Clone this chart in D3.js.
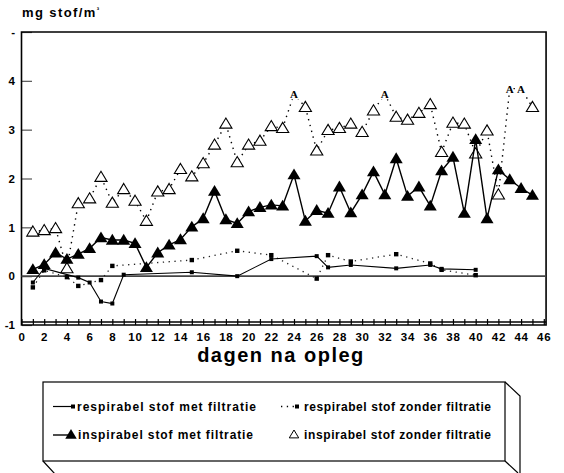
<!DOCTYPE html>
<html>
<head>
<meta charset="utf-8">
<script src="https://cdn.jsdelivr.net/npm/d3@7"></script>
<style>
  body { margin: 0; background: #fff; }
  svg { display: block; font-family: "Liberation Sans", Arial, sans-serif; font-weight: bold; }
</style>
</head>
<body>
<div id="chart"></div>
<script>
// days on which inspirabel stof was measured
var inspDays = [1, 2, 3, 4, 5, 6, 7, 8, 9, 10, 11, 12, 13, 14, 15, 16, 17, 18, 19, 20, 21, 22, 23,
  24, 25, 26, 27, 28, 29, 30, 31, 32, 33, 34, 35, 36, 37, 38, 39, 40, 41, 42, 43, 44, 45];
var inspMet = [0.14, 0.24, 0.48, 0.35, 0.45, 0.57, 0.79, 0.74, 0.74, 0.67, 0.18, 0.48, 0.64, 0.75,
  1.01, 1.18, 1.74, 1.16, 1.08, 1.32, 1.41, 1.46, 1.44, 2.08, 1.13, 1.35, 1.29, 1.83, 1.30, 1.67,
  2.14, 1.67, 2.41, 1.64, 1.83, 1.44, 2.16, 2.44, 1.29, 2.80, 1.18, 2.18, 1.98, 1.80, 1.66];
var inspZonder = [0.91, 0.94, 0.98, 0.16, 1.49, 1.59, 2.03, 1.50, 1.78, 1.54, 1.13, 1.73, 1.78, 2.19,
  2.04, 2.31, 2.69, 3.12, 2.33, 2.69, 2.77, 3.07, 3.03, 3.73, 3.46, 2.57, 2.99, 3.03, 3.12, 2.95,
  3.39, 3.73, 3.26, 3.20, 3.34, 3.52, 2.54, 3.14, 3.12, 2.51, 2.98, 1.67, 3.84, 3.84, 3.46];
// open-triangle points that are printed as the letter "A" in the original
var aDays = [24, 32, 43, 44];

var respMetDays = [1, 2, 5, 6, 7, 8, 9, 15, 19, 22, 26, 27, 29, 33, 36, 37, 40];
var respMet = [-0.13, 0.16, -0.03, -0.13, -0.52, -0.56, 0.03, 0.08, 0.0, 0.35, 0.41, 0.18, 0.23,
  0.16, 0.23, 0.15, 0.13];
var respZonderDays = [1, 2, 4, 5, 7, 8, 15, 19, 22, 26, 27, 29, 33, 36, 37, 40];
var respZonder = [-0.23, 0.12, -0.02, -0.2, -0.08, 0.21, 0.33, 0.52, 0.43, -0.05, 0.43, 0.3, 0.45,
  0.26, 0.13, 0.02];

var xTicks = [0, 1, 2, 3, 4, 5, 6, 7, 8, 9, 10, 11, 12, 13, 14, 15, 16, 17, 18, 19, 20, 21, 22, 23,
  24, 25, 26, 27, 28, 29, 30, 31, 32, 33, 34, 35, 36, 37, 38, 39, 40, 41, 42, 43, 44, 45, 46];
var yTicks = [-1, 0, 1, 2, 3, 4, 5];

var legendItems = [
  "respirabel stof met filtratie",
  "respirabel stof zonder filtratie",
  "inspirabel stof met filtratie",
  "inspirabel stof zonder filtratie"
];

var width = 564, height = 473;

var svg = d3.select("#chart").append("svg")
  .attr("width", width)
  .attr("height", height);

var x = d3.scaleLinear().domain([0, 46]).range([21.5, 543.8]);
var y = d3.scaleLinear().domain([-1, 5]).range([325, 32]);

// triangle marker path, centred on the point
function tri(s) {
  return "M0," + (-s) + "L" + (s * 1.05) + "," + (s * 0.75) + "L" + (-s * 1.05) + "," + (s * 0.75) + "Z";
}

// y axis title
svg.append("text")
  .attr("x", 22)
  .attr("y", 17)
  .style("font-size", "13px")
  .style("letter-spacing", "1.4px")
  .text("mg stof/m")
  .append("tspan")
  .attr("dy", -5)
  .style("font-size", "7px")
  .text("³");

// y axis with inner ticks
var yAxis = d3.axisLeft(y)
  .tickValues(yTicks)
  .tickSize(-10)
  .tickPadding(7)
  .tickFormat(function (d) { return d == 5 ? "-" : d; });
var gy = svg.append("g").attr("transform", "translate(22,0)").call(yAxis);
gy.select(".domain").remove();
gy.selectAll(".tick line").attr("stroke", "#555").attr("stroke-width", 1.2);
gy.selectAll(".tick text")
  .style("font-size", "11.5px")
  .style("font-family", "Liberation Sans, Arial, sans-serif")
  .style("font-weight", "bold")
  .attr("fill", "#000");

// x axis ruler along the bottom
var xAxis = d3.axisBottom(x)
  .tickValues(xTicks)
  .tickSize(-6)
  .tickPadding(8)
  .tickFormat(function (d) { return d % 2 ? "" : d; });
var gx = svg.append("g").attr("transform", "translate(0," + y(-1) + ")").call(xAxis);
gx.select(".domain").remove();
gx.selectAll(".tick line").attr("stroke", "#000").attr("stroke-width", 1.2);
gx.selectAll(".tick text")
  .style("font-size", "11.5px")
  .style("font-family", "Liberation Sans, Arial, sans-serif")
  .style("font-weight", "bold")
  .style("letter-spacing", "0.8px")
  .attr("fill", "#000");

// frame
svg.append("path")
  .attr("d", "M" + x(0) + "," + y(-1) + "V" + y(5) + "H" + x(46.2) + "V" + y(-1) + "Z")
  .attr("fill", "none")
  .attr("stroke", "#000")
  .attr("stroke-width", 1.6);
svg.append("line")
  .attr("x1", x(0)).attr("x2", x(46.2))
  .attr("y1", y(-1) - 3).attr("y2", y(-1) - 3)
  .attr("stroke", "#000").attr("stroke-width", 1.6);

// zero line
svg.append("line")
  .attr("x1", x(0)).attr("x2", x(46.2))
  .attr("y1", y(0)).attr("y2", y(0))
  .attr("stroke", "#444").attr("stroke-width", 1.6);

// x axis title
svg.append("text")
  .attr("x", 281)
  .attr("y", 362)
  .attr("text-anchor", "middle")
  .style("font-size", "20px")
  .style("letter-spacing", "1.5px")
  .text("dagen na opleg");

var line = d3.line()
  .x(function (d) { return x(d[0]); })
  .y(function (d) { return y(d[1]); });

var inspMetPts = inspDays.map(function (d, i) { return [d, inspMet[i]]; });
var inspZonderPts = inspDays.map(function (d, i) { return [d, inspZonder[i]]; });
var respMetPts = respMetDays.map(function (d, i) { return [d, respMet[i]]; });
var respZonderPts = respZonderDays.map(function (d, i) { return [d, respZonder[i]]; });

// respirabel zonder filtratie: dotted with squares
svg.append("path")
  .attr("d", line(respZonderPts))
  .attr("fill", "none")
  .attr("stroke", "#222")
  .attr("stroke-width", 1.3)
  .attr("stroke-dasharray", "1.3,4.5");
svg.selectAll(".rz").data(respZonderPts).enter().append("rect")
  .attr("x", function (d) { return x(d[0]) - 2.2; })
  .attr("y", function (d) { return y(d[1]) - 2.2; })
  .attr("width", 4.4).attr("height", 4.4)
  .attr("fill", "#000");

// respirabel met filtratie: solid with squares
svg.append("path")
  .attr("d", line(respMetPts))
  .attr("fill", "none")
  .attr("stroke", "#000")
  .attr("stroke-width", 1.1);
svg.selectAll(".rm").data(respMetPts).enter().append("rect")
  .attr("x", function (d) { return x(d[0]) - 2; })
  .attr("y", function (d) { return y(d[1]) - 2; })
  .attr("width", 4).attr("height", 4)
  .attr("fill", "#000");

// inspirabel zonder filtratie: dotted with open triangles
svg.append("path")
  .attr("d", line(inspZonderPts))
  .attr("fill", "none")
  .attr("stroke", "#000")
  .attr("stroke-width", 1.4)
  .attr("stroke-dasharray", "1.4,4.6");
svg.selectAll(".iz").data(inspZonderPts.filter(function (d) { return aDays.indexOf(d[0]) < 0; }))
  .enter().append("path")
  .attr("transform", function (d) { return "translate(" + x(d[0]) + "," + y(d[1]) + ")"; })
  .attr("d", tri(5.8))
  .attr("fill", "#fff")
  .attr("stroke", "#000")
  .attr("stroke-width", 1.1);
var aPts = inspZonderPts.filter(function (d) { return aDays.indexOf(d[0]) >= 0; });
svg.selectAll(".ia").data(aPts).enter().append("text")
  .attr("x", function (d) { return x(d[0]); })
  .attr("y", function (d) { return y(d[1]) + 4; })
  .attr("text-anchor", "middle")
  .style("font-family", "Liberation Serif, DejaVu Serif, serif")
  .style("font-weight", "bold")
  .style("font-size", "11px")
  .attr("fill", "#fff")
  .attr("stroke", "#fff")
  .attr("stroke-width", 2.5)
  .text("A");
svg.selectAll(".ia2").data(aPts).enter().append("text")
  .attr("x", function (d) { return x(d[0]); })
  .attr("y", function (d) { return y(d[1]) + 4; })
  .attr("text-anchor", "middle")
  .style("font-family", "Liberation Serif, DejaVu Serif, serif")
  .style("font-weight", "bold")
  .style("font-size", "11px")
  .attr("fill", "#000")
  .text("A");

// inspirabel met filtratie: solid with filled triangles
svg.append("path")
  .attr("d", line(inspMetPts))
  .attr("fill", "none")
  .attr("stroke", "#000")
  .attr("stroke-width", 1.4);
svg.selectAll(".im").data(inspMetPts).enter().append("path")
  .attr("transform", function (d) { return "translate(" + x(d[0]) + "," + y(d[1]) + ")"; })
  .attr("d", tri(6.2))
  .attr("fill", "#000");

// legend, drawn as a 3D box
var lg = svg.append("g");
lg.append("path")
  .attr("d", "M505,382L520,396V474M505,461L518,473M43,461L55,474")
  .attr("fill", "none")
  .attr("stroke", "#000")
  .attr("stroke-width", 1.2);
lg.append("rect")
  .attr("x", 43).attr("y", 382)
  .attr("width", 462).attr("height", 79)
  .attr("fill", "#fff")
  .attr("stroke", "#000")
  .attr("stroke-width", 1.2);

var lgText = [[77, 411, 179], [304, 411, 187], [78, 439, 175], [304, 439, 187]];
lg.selectAll(".lt").data(legendItems).enter().append("text")
  .attr("x", function (d, i) { return lgText[i][0]; })
  .attr("y", function (d, i) { return lgText[i][1]; })
  .attr("textLength", function (d, i) { return lgText[i][2]; })
  .attr("lengthAdjust", "spacing")
  .style("font-size", "12px")
  .text(function (d) { return d; });

// legend symbols
lg.append("line").attr("x1", 53).attr("x2", 73).attr("y1", 406.5).attr("y2", 406.5)
  .attr("stroke", "#000").attr("stroke-width", 1.2);
lg.append("rect").attr("x", 71).attr("y", 404.5).attr("width", 4).attr("height", 4).attr("fill", "#000");

lg.append("line").attr("x1", 281).attr("x2", 296).attr("y1", 406.5).attr("y2", 406.5)
  .attr("stroke", "#000").attr("stroke-width", 1.3).attr("stroke-dasharray", "1.3,4.5");
lg.append("rect").attr("x", 295).attr("y", 404.5).attr("width", 4).attr("height", 4).attr("fill", "#000");

lg.append("line").attr("x1", 53).attr("x2", 68).attr("y1", 435).attr("y2", 435)
  .attr("stroke", "#000").attr("stroke-width", 1.4);
lg.append("path").attr("transform", "translate(71,434.5)").attr("d", tri(5.5)).attr("fill", "#000");

lg.append("path").attr("transform", "translate(294,434.5)").attr("d", tri(4.5))
  .attr("fill", "#fff").attr("stroke", "#000").attr("stroke-width", 1);
</script>
</body>
</html>
